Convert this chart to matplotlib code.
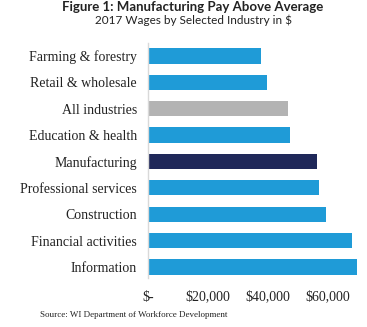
import matplotlib
matplotlib.use("Agg")
import matplotlib.pyplot as plt

# ===== DATA =====
industries = ["Farming & forestry", "Retail & wholesale", "All industries",
              "Education & health", "Manufacturing", "Professional services",
              "Construction", "Financial activities", "Information"]
wages = [37700, 39700, 46700, 47300, 56300, 57000, 59300, 68000, 69700]
bar_colors = ["#1F9BD7", "#1F9BD7", "#B3B3B3", "#1F9BD7", "#1F2859",
              "#1F9BD7", "#1F9BD7", "#1F9BD7", "#1F9BD7"]
xticks = [0, 20000, 40000, 60000]
xtick_labels = ["$-", "$20,000", "$40,000", "$60,000"]

# ===== PLOT =====
fig = plt.figure(figsize=(3.67, 3.27), dpi=100)
ax = fig.add_axes([0.4033, 0.1498, 0.5804, 0.7187])

ypos = list(range(len(industries)))
ax.barh(ypos, wages, height=0.58, color=bar_colors)

ax.set_ylim(8.42, -0.49)
ax.set_xlim(0, 71000)

ax.set_yticks(ypos)
ax.set_yticklabels(industries, family="Liberation Serif", fontsize=10, color="#222222")
ax.set_xticks(xticks)
ax.set_xticklabels(xtick_labels, family="Liberation Serif", fontsize=10, color="#222222")
ax.tick_params(axis="y", length=0, pad=8)
ax.tick_params(axis="x", length=0, pad=9)

for s in ["top", "right", "bottom"]:
    ax.spines[s].set_visible(False)
ax.spines["left"].set_color("#D9D9D9")
ax.spines["left"].set_linewidth(1.0)

fig.text(0.526, 0.978, "Figure 1: Manufacturing Pay Above Average",
         ha="center", va="center", fontsize=9.5, fontweight="bold",
         family="Lato", color="#222222")
fig.text(0.526, 0.938, "2017 Wages by Selected Industry in $",
         ha="center", va="center", fontsize=8.5, family="Lato", color="#222222")
fig.text(0.109, 0.037, "Source: WI Department of Workforce Development",
         ha="left", va="center", fontsize=6.5, family="Liberation Serif",
         color="#222222")

fig.savefig("out.png", dpi=100)
